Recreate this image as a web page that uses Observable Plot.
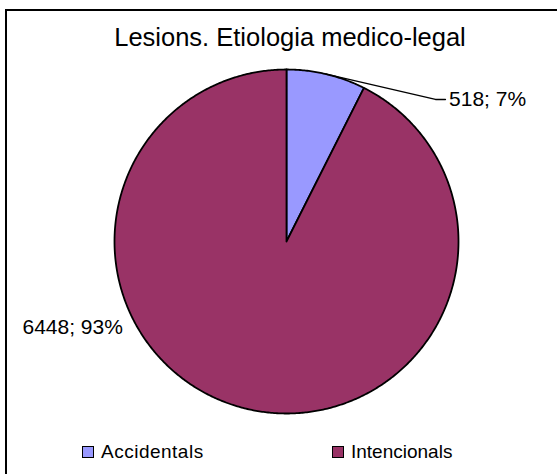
<!DOCTYPE html>
<html>
<head>
<meta charset="utf-8">
<script src="https://cdn.jsdelivr.net/npm/d3@7"></script>
<script src="https://cdn.jsdelivr.net/npm/@observablehq/plot@0.6"></script>
<style>
  html, body { margin: 0; padding: 0; background: #fff; }
  body { width: 557px; height: 474px; position: relative; overflow: hidden; font-family: "Liberation Sans", Arial, sans-serif; }
  #frame { position: absolute; left: 5px; top: 9px; right: -10px; bottom: -10px; border-left: 2px solid #000; border-top: 2px solid #000; }
  #chart { position: absolute; left: 0; top: 0; }
  #title { position: absolute; left: 0; width: 580px; top: 25px; text-align: center; font-size: 25.5px; line-height: 25.5px; color: #000; white-space: nowrap; }
  .leg { position: absolute; top: 442px; font-size: 19px; line-height: 19px; color: #000; white-space: nowrap; }
  .sw { position: absolute; top: 446px; width: 10px; height: 10px; border: 1px solid #000; }
</style>
</head>
<body>
<div id="chart"></div>
<div id="frame"></div>
<div id="title"></div>
<div id="legend"></div>
<script>
// ---- data ----
const categories = ["Accidentals", "Intencionals"];
const values = [518, 6448];
const colors = ["#9999FF", "#993366"];
const chartTitle = "Lesions. Etiologia medico-legal";

// ---- layout (not data) ----
const labelLayout = [
  {x: 0.945, y: 0.826, elbow: [0.866, 0.826], end: [0.924, 0.826]},
  {x: -1.535, y: -0.5}
];
const legendLayout = [{sw: 82, tx: 101, ls: 0.5}, {sw: 332, tx: 351, ls: 0}];

const total = d3.sum(values);
const pie = d3.pie().sort(null).value(d => d)(values);

// polygon points for each slice (angle measured clockwise from top)
const pts = [];
pie.forEach((p, i) => {
  const a0 = p.startAngle, a1 = p.endAngle;
  const n = Math.max(2, Math.ceil((a1 - a0) / (Math.PI / 360)));
  pts.push({k: i, x: 0, y: 0});
  for (let j = 0; j <= n; j++) {
    const a = a0 + (a1 - a0) * j / n;
    pts.push({k: i, x: Math.sin(a), y: Math.cos(a)});
  }
  pts.push({k: i, x: 0, y: 0});
});

const labels = pie.map((p, i) => ({
  text: `${values[i]}; ${Math.round(values[i] / total * 100)}%`,
  ...labelLayout[i]
}));

// leader line for first slice
const mid0 = (pie[0].startAngle + pie[0].endAngle) / 2;
const leader = [
  {x: Math.sin(mid0), y: Math.cos(mid0)},
  {x: labelLayout[0].elbow[0], y: labelLayout[0].elbow[1]},
  {x: labelLayout[0].end[0], y: labelLayout[0].end[1]}
];

const chart = Plot.plot({
  width: 557,
  height: 474,
  margin: 0,
  style: {background: "transparent", fontFamily: "Liberation Sans, Arial, sans-serif"},
  x: {domain: [-1, 1], range: [114, 458], axis: null},
  y: {domain: [-1, 1], range: [413, 69], axis: null},
  marks: [
    Plot.line(pts, {x: "x", y: "y", z: "k", fill: d => colors[d.k], stroke: "#000", strokeWidth: 1.8, strokeLinejoin: "round", curve: "linear"}),
    Plot.line(leader, {x: "x", y: "y", stroke: "#000", strokeWidth: 1.4}),
    Plot.text(labels, {x: "x", y: "y", text: "text", textAnchor: "start", fontSize: 21, fill: "#000", lineAnchor: "middle"})
  ]
});
document.getElementById("chart").appendChild(chart);

document.getElementById("title").textContent = chartTitle;
const leg = document.getElementById("legend");
categories.forEach((c, i) => {
  const s = document.createElement("div");
  s.className = "sw";
  s.style.left = legendLayout[i].sw + "px";
  s.style.background = colors[i];
  leg.appendChild(s);
  const t = document.createElement("div");
  t.className = "leg";
  t.style.left = legendLayout[i].tx + "px";
  t.style.letterSpacing = legendLayout[i].ls + "px";
  t.textContent = c;
  leg.appendChild(t);
});
</script>
</body>
</html>
